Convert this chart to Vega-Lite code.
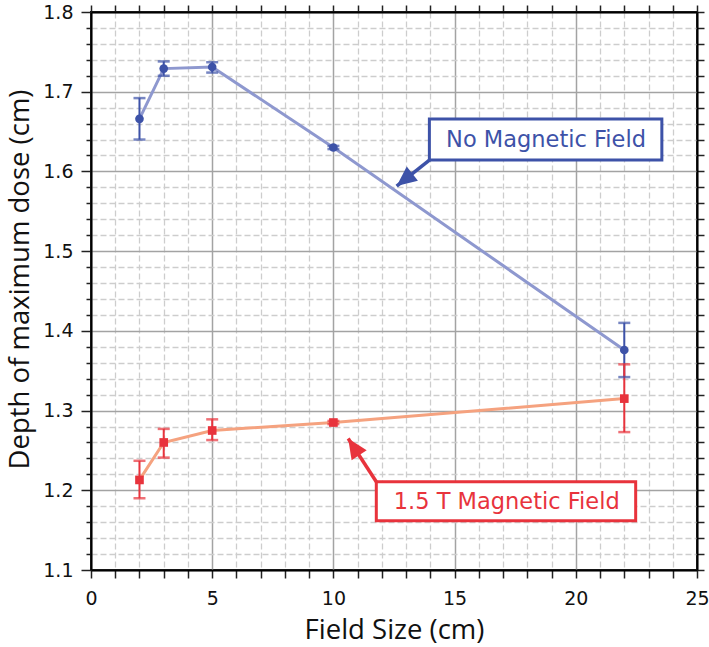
{
  "$schema": "https://vega.github.io/schema/vega-lite/v6.json",
  "width": 606,
  "height": 558,
  "autosize": {"type": "none"},
  "padding": {"left": 91, "top": 12, "right": 12, "bottom": 77},
  "background": "white",
  "config": {
    "view": {"stroke": "black", "strokeWidth": 2},
    "axis": {
      "domainColor": "black",
      "domainWidth": 2,
      "tickColor": "#222",
      "tickWidth": 1.5,
      "labelFont": "DejaVu Sans",
      "labelFontSize": 19,
      "labelColor": "#111",
      "titleFont": "Open Sans",
      "titleFontWeight": "normal",
      "titleColor": "#111"
    }
  },
  "datasets": {
    "pts": [
      {"series": "No Magnetic Field", "x": 2, "y": 1.666, "lo": 1.640, "hi": 1.692},
      {"series": "No Magnetic Field", "x": 3, "y": 1.729, "lo": 1.720, "hi": 1.738},
      {"series": "No Magnetic Field", "x": 5, "y": 1.731, "lo": 1.724, "hi": 1.737},
      {"series": "No Magnetic Field", "x": 10, "y": 1.630, "lo": 1.628, "hi": 1.632},
      {"series": "No Magnetic Field", "x": 22, "y": 1.376, "lo": 1.342, "hi": 1.410},
      {"series": "1.5 T Magnetic Field", "x": 2, "y": 1.213, "lo": 1.190, "hi": 1.237},
      {"series": "1.5 T Magnetic Field", "x": 3, "y": 1.260, "lo": 1.241, "hi": 1.277},
      {"series": "1.5 T Magnetic Field", "x": 5, "y": 1.275, "lo": 1.263, "hi": 1.289},
      {"series": "1.5 T Magnetic Field", "x": 10, "y": 1.285, "lo": 1.283, "hi": 1.287},
      {"series": "1.5 T Magnetic Field", "x": 22, "y": 1.315, "lo": 1.273, "hi": 1.358}
    ],
    "notes": [
      {"series": "No Magnetic Field", "x": 18.77, "y": 1.6394, "x1": 13.96, "x2": 23.55, "y1": 1.6657, "y2": 1.6143, "ax": 14.0, "ay": 1.6150, "tx": 12.61, "ty": 1.5817},
      {"series": "1.5 T Magnetic Field", "x": 17.15, "y": 1.1856, "x1": 11.77, "x2": 22.47, "y1": 1.2107, "y2": 1.1617, "ax": 11.77, "ay": 1.2107, "tx": 10.61, "ty": 1.265}
    ]
  },
  "layer": [
    {
      "data": {"name": "pts"},
      "mark": {"type": "point", "opacity": 0},
      "encoding": {
        "x": {
          "field": "x", "type": "quantitative",
          "scale": {"domain": [0, 25], "nice": false, "zero": false},
          "axis": {
            "orient": "bottom",
            "title": "Field Size (cm)",
            "titleFontSize": 27.5,
            "values": [0,1,2,3,4,5,6,7,8,9,10,11,12,13,14,15,16,17,18,19,20,21,22,23,24,25],
            "labelExpr": "datum.value % 5 === 0 ? datum.label : ''",
            "tickSize": 8,
            "labelPadding": 11,
            "labelFlush": false,
            "labelOverlap": false,
            "titlePadding": 8,
            "grid": true,
            "gridColor": {"condition": {"test": "datum.value % 5 === 0", "value": "#a3a3a3"}, "value": "#cdcdcd"},
            "gridDash": {"condition": {"test": "datum.value % 5 === 0", "value": []}, "value": [6, 3]},
            "gridWidth": {"condition": {"test": "datum.value % 5 === 0", "value": 1.5}, "value": 1.3}
          }
        },
        "y": {
          "field": "y", "type": "quantitative",
          "scale": {"domain": [1.1, 1.8], "nice": false, "zero": false},
          "axis": {
            "orient": "left",
            "title": "Depth of maximum dose (cm)",
            "titleFontSize": 27.5,
            "titleY": 267,
            "values": [1.1,1.12,1.14,1.16,1.18,1.2,1.22,1.24,1.26,1.28,1.3,1.32,1.34,1.36,1.38,1.4,1.42,1.44,1.46,1.48,1.5,1.52,1.54,1.56,1.58,1.6,1.62,1.64,1.66,1.68,1.7,1.72,1.74,1.76,1.78,1.8],
            "format": ".1f",
            "labelExpr": "abs(datum.value*10 - round(datum.value*10)) < 0.001 ? datum.label : ''",
            "tickSize": {"condition": {"test": "abs(datum.value*10 - round(datum.value*10)) < 0.001", "value": 10}, "value": 5},
            "labelPadding": 8,
            "labelFlush": false,
            "labelOverlap": false,
            "titlePadding": 8,
            "grid": true,
            "gridColor": {"condition": {"test": "abs(datum.value*10 - round(datum.value*10)) < 0.001", "value": "#a3a3a3"}, "value": "#cdcdcd"},
            "gridDash": {"condition": {"test": "abs(datum.value*10 - round(datum.value*10)) < 0.001", "value": []}, "value": [6, 3]},
            "gridWidth": {"condition": {"test": "abs(datum.value*10 - round(datum.value*10)) < 0.001", "value": 1.5}, "value": 1.3}
          }
        }
      }
    },
    {
      "data": {"name": "pts"},
      "mark": {"type": "point", "opacity": 0},
      "encoding": {
        "x": {
          "field": "x", "type": "quantitative",
          "scale": {"domain": [0, 25], "nice": false, "zero": false},
          "axis": {
            "orient": "top", "title": null, "labels": false, "grid": false, "tickSize": 7,
            "values": [0,1,2,3,4,5,6,7,8,9,10,11,12,13,14,15,16,17,18,19,20,21,22,23,24,25]
          }
        },
        "y": {
          "field": "y", "type": "quantitative",
          "scale": {"domain": [1.1, 1.8], "nice": false, "zero": false},
          "axis": {
            "orient": "right", "title": null, "labels": false, "grid": false, "tickSize": 7,
            "values": [1.1,1.12,1.14,1.16,1.18,1.2,1.22,1.24,1.26,1.28,1.3,1.32,1.34,1.36,1.38,1.4,1.42,1.44,1.46,1.48,1.5,1.52,1.54,1.56,1.58,1.6,1.62,1.64,1.66,1.68,1.7,1.72,1.74,1.76,1.78,1.8]
          }
        }
      }
    },
    {
      "data": {"name": "pts"},
      "mark": {"type": "line", "strokeWidth": 3},
      "encoding": {
        "x": {"field": "x", "type": "quantitative", "axis": null},
        "y": {"field": "y", "type": "quantitative", "axis": null},
        "stroke": {"field": "series", "type": "nominal", "legend": null,
          "scale": {"domain": ["No Magnetic Field", "1.5 T Magnetic Field"], "range": ["#8e98cf", "#f5a27f"]}},
        "detail": {"field": "series"}
      }
    },
    {
      "data": {"name": "pts"},
      "mark": {"type": "rule", "strokeWidth": 2},
      "encoding": {
        "x": {"field": "x", "type": "quantitative", "axis": null},
        "y": {"field": "lo", "type": "quantitative", "axis": null},
        "y2": {"field": "hi"},
        "color": {"field": "series", "type": "nominal", "legend": null,
          "scale": {"domain": ["No Magnetic Field", "1.5 T Magnetic Field"], "range": ["#3d52a8", "#e8333c"]}}
      }
    },
    {
      "data": {"name": "pts"},
      "mark": {"type": "tick", "orient": "horizontal", "size": 12, "thickness": 2.5},
      "encoding": {
        "x": {"field": "x", "type": "quantitative", "axis": null},
        "y": {"field": "lo", "type": "quantitative", "axis": null},
        "color": {"field": "series", "type": "nominal", "legend": null}
      }
    },
    {
      "data": {"name": "pts"},
      "mark": {"type": "tick", "orient": "horizontal", "size": 12, "thickness": 2.5},
      "encoding": {
        "x": {"field": "x", "type": "quantitative", "axis": null},
        "y": {"field": "hi", "type": "quantitative", "axis": null},
        "color": {"field": "series", "type": "nominal", "legend": null}
      }
    },
    {
      "data": {"name": "pts"},
      "mark": {"type": "point", "filled": true, "opacity": 1, "size": 75},
      "encoding": {
        "x": {"field": "x", "type": "quantitative", "axis": null},
        "y": {"field": "y", "type": "quantitative", "axis": null},
        "color": {"field": "series", "type": "nominal", "legend": null},
        "shape": {"field": "series", "type": "nominal", "legend": null,
          "scale": {"domain": ["No Magnetic Field", "1.5 T Magnetic Field"], "range": ["circle", "square"]}}
      }
    },
    {
      "data": {"name": "notes"},
      "mark": {"type": "rule", "strokeWidth": 3.5},
      "encoding": {
        "x": {"field": "ax", "type": "quantitative", "axis": null},
        "y": {"field": "ay", "type": "quantitative", "axis": null},
        "x2": {"field": "tx"},
        "y2": {"field": "ty"},
        "color": {"field": "series", "type": "nominal", "legend": null}
      }
    },
    {
      "data": {"name": "notes"},
      "transform": [{"filter": "datum.series === 'No Magnetic Field'"}],
      "mark": {"type": "point", "shape": "M0,0L-0.45,1L0.45,1Z", "filled": true, "opacity": 1, "size": 1600, "angle": 231.6},
      "encoding": {
        "x": {"field": "tx", "type": "quantitative", "axis": null},
        "y": {"field": "ty", "type": "quantitative", "axis": null},
        "color": {"field": "series", "type": "nominal", "legend": null}
      }
    },
    {
      "data": {"name": "notes"},
      "transform": [{"filter": "datum.series === '1.5 T Magnetic Field'"}],
      "mark": {"type": "point", "shape": "M0,0L-0.45,1L0.45,1Z", "filled": true, "opacity": 1, "size": 1600, "angle": 326.8},
      "encoding": {
        "x": {"field": "tx", "type": "quantitative", "axis": null},
        "y": {"field": "ty", "type": "quantitative", "axis": null},
        "color": {"field": "series", "type": "nominal", "legend": null}
      }
    },
    {
      "data": {"name": "notes"},
      "transform": [{"filter": "datum.series === 'No Magnetic Field'"}],
      "mark": {"type": "rect", "fill": "white", "stroke": "#3d52a8", "strokeWidth": 3},
      "encoding": {
        "x": {"field": "x1", "type": "quantitative", "axis": null},
        "x2": {"field": "x2"},
        "y": {"field": "y1", "type": "quantitative", "axis": null},
        "y2": {"field": "y2"}
      }
    },
    {
      "data": {"name": "notes"},
      "transform": [{"filter": "datum.series === '1.5 T Magnetic Field'"}],
      "mark": {"type": "rect", "fill": "white", "stroke": "#e8333c", "strokeWidth": 3},
      "encoding": {
        "x": {"field": "x1", "type": "quantitative", "axis": null},
        "x2": {"field": "x2"},
        "y": {"field": "y1", "type": "quantitative", "axis": null},
        "y2": {"field": "y2"}
      }
    },
    {
      "data": {"name": "notes"},
      "mark": {"type": "text", "font": "DejaVu Sans", "fontSize": 22.5, "align": "center", "baseline": "middle"},
      "encoding": {
        "x": {"field": "x", "type": "quantitative", "axis": null},
        "y": {"field": "y", "type": "quantitative", "axis": null},
        "text": {"field": "series"},
        "color": {"field": "series", "type": "nominal", "legend": null}
      }
    }
  ],
  "resolve": {"axis": {"x": "independent", "y": "independent"}}
}
